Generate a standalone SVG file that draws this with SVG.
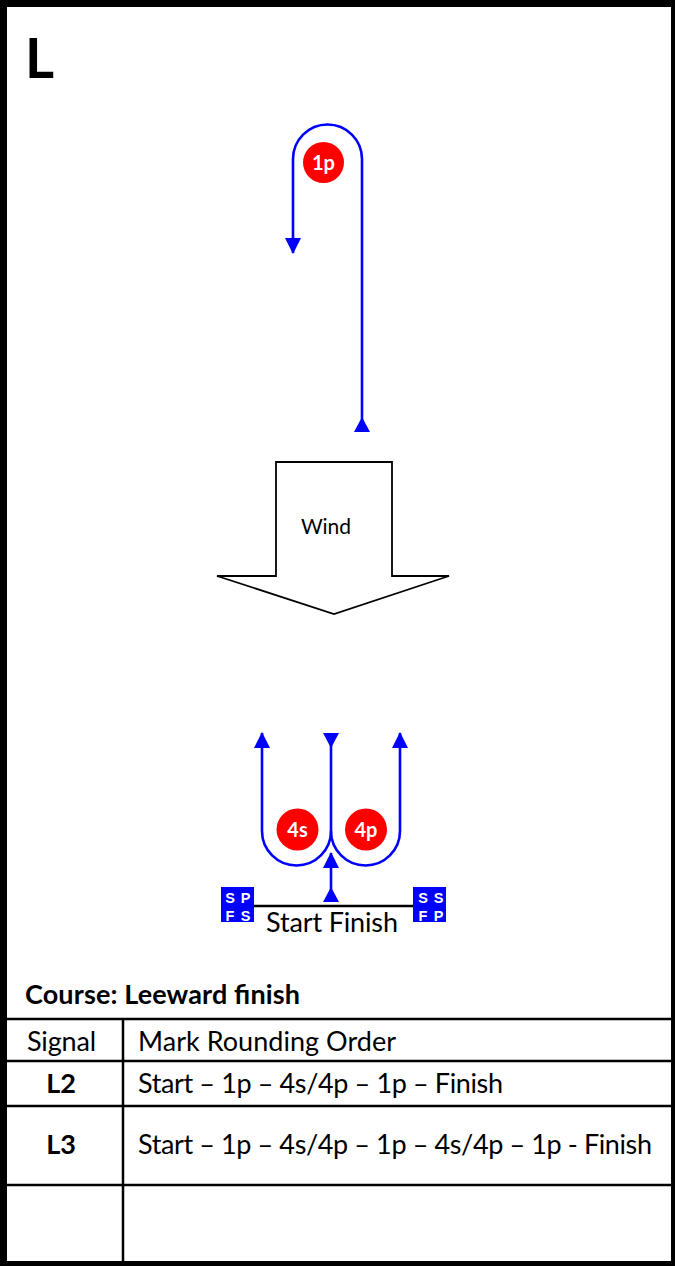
<svg xmlns="http://www.w3.org/2000/svg" width="675" height="1266" viewBox="0 0 675 1266">
  <style>
    .t { font-family: Lato, "Liberation Sans", sans-serif; fill: #000; }
    .b { font-weight: bold; }
    .course { stroke: #0000FF; stroke-width: 2.6; fill: none; }
    .mark { fill: #FF0000; }
    .mlabel { font-family: Lato, "Liberation Sans", sans-serif; font-weight: bold; font-size: 20px; fill: #fff; text-anchor: middle; }
    .flag { fill: #0000FF; }
    .flabel { font-family: "Liberation Sans", Arial, sans-serif; font-weight: bold; font-size: 14.5px; fill: #fff; text-anchor: middle; }
    .line { stroke: #000; stroke-width: 2.5; fill: none; }
  </style>
  <defs>
    <marker id="arrEnd" markerUnits="userSpaceOnUse" markerWidth="16" markerHeight="16" viewBox="0 0 16 16" refX="15" refY="8" orient="auto">
      <path d="M0,0 L16,8 L0,16 z" fill="#0000FF"/>
    </marker>
    <marker id="arrStart" markerUnits="userSpaceOnUse" markerWidth="16" markerHeight="16" viewBox="0 0 16 16" refX="0" refY="8" orient="auto">
      <path d="M0,0 L15,8 L0,16 z" fill="#0000FF"/>
    </marker>
  </defs>
  <rect width="675" height="1266" fill="#fff"/>

  <g id="frame">
    <rect x="3.5" y="3.5" width="671" height="1261" fill="none" stroke="#000" stroke-width="7"/>
  </g>

  <g id="title">
    <text class="t b" x="25" y="78" font-size="56">L</text>
  </g>

  <g id="wind">
    <polygon points="276,462 392,462 392,576 449,576 334,614 217,576 276,576" fill="#fff" stroke="#000" stroke-width="1.8"/>
    <text class="t" x="326" y="534" font-size="21" text-anchor="middle">Wind</text>
  </g>

  <g id="connectors">
    <path class="course" d="M362,432 L362,159 A34.5,34.5 0 0 0 293,159 L293,253" marker-start="url(#arrStart)" marker-end="url(#arrEnd)"/>
    <path class="course" d="M331,733 L331,831 A34.5,34.5 0 0 1 262,831 L262,733" marker-start="url(#arrStart)" marker-end="url(#arrEnd)"/>
    <path class="course" d="M331,831 A34.5,34.5 0 0 0 400,831 L400,733" marker-end="url(#arrEnd)"/>
    <path class="course" d="M331,902 L331,853" marker-start="url(#arrStart)" marker-end="url(#arrEnd)"/>
  </g>

  <g id="mark-1p">
    <circle class="mark" cx="323.5" cy="162.5" r="20.5"/>
    <text class="mlabel" x="323.5" y="169.5">1p</text>
  </g>
  <g id="mark-4s">
    <circle class="mark" cx="297.5" cy="829.5" r="21"/>
    <text class="mlabel" x="297.5" y="836.5">4s</text>
  </g>
  <g id="mark-4p">
    <circle class="mark" cx="366" cy="829.5" r="21"/>
    <text class="mlabel" x="366" y="836.5">4p</text>
  </g>

  <g id="start-line">
    <line class="line" x1="254" y1="906" x2="413" y2="906" stroke-width="2"/>
    <text class="t" x="266" y="932" font-size="27" textLength="132">Start Finish</text>
  </g>

  <g id="flag-left">
    <rect class="flag" x="221" y="887" width="33" height="35"/>
    <text class="flabel" x="230" y="903">S</text>
    <text class="flabel" x="245.5" y="903">P</text>
    <text class="flabel" x="230" y="921">F</text>
    <text class="flabel" x="245.5" y="921">S</text>
  </g>
  <g id="flag-right">
    <rect class="flag" x="413" y="887" width="33" height="35"/>
    <text class="flabel" x="423" y="903">S</text>
    <text class="flabel" x="438.5" y="903">S</text>
    <text class="flabel" x="423" y="921">F</text>
    <text class="flabel" x="438.5" y="921">P</text>
  </g>

  <g id="course-heading">
    <text class="t b" x="25" y="1004" font-size="27" textLength="275">Course: Leeward finish</text>
  </g>

  <g id="table">
    <line class="line" x1="0" y1="1019" x2="675" y2="1019"/>
    <line class="line" x1="0" y1="1061" x2="675" y2="1061"/>
    <line class="line" x1="0" y1="1106" x2="675" y2="1106"/>
    <line class="line" x1="0" y1="1185" x2="675" y2="1185"/>
    <line class="line" x1="123" y1="1019" x2="123" y2="1262"/>
    <text class="t" x="27" y="1051" font-size="27" textLength="69">Signal</text>
    <text class="t" x="138" y="1051" font-size="27" textLength="258">Mark Rounding Order</text>
    <text class="t b" x="61" y="1093" font-size="27" text-anchor="middle">L2</text>
    <text class="t" x="138" y="1093" font-size="27" textLength="365">Start – 1p – 4s/4p – 1p – Finish</text>
    <text class="t b" x="61" y="1154" font-size="27" text-anchor="middle">L3</text>
    <text class="t" x="138" y="1154" font-size="27" textLength="514">Start – 1p – 4s/4p – 1p – 4s/4p – 1p - Finish</text>
  </g>
</svg>
